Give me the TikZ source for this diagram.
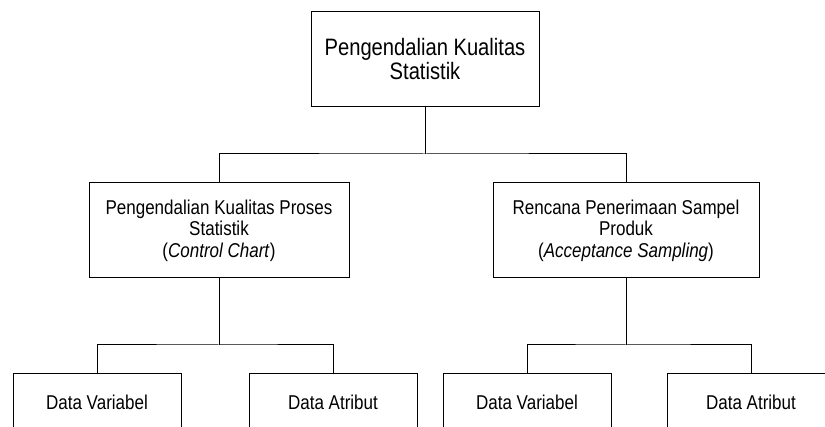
\documentclass[tikz,border=0pt]{standalone}
\usepackage{fontspec}
\setmainfont{Liberation Sans}[FakeStretch=0.85]
\begin{document}
\begin{tikzpicture}[x=0.75pt,y=-0.75pt,
  box/.style={draw=black, line width=0.75pt, inner sep=0pt, align=center},
  conn/.style={draw=black, line width=0.75pt},
  topfont/.style={font=\fontsize{17.8}{18}\selectfont},
  midfont/.style={font=\fontsize{15}{16.1}\selectfont}]
\useasboundingbox (0,0) rectangle (825,427);
\clip (0,0) rectangle (825,427);
\fill[white] (0,0) rectangle (825,427);

\node[box, topfont, minimum width=171pt, minimum height=71.25pt] (top) at (425,59.5) {Pengendalian Kualitas\\Statistik};

\node[box, midfont, minimum width=195pt, minimum height=71.25pt] (ml) at (219,230.5) {Pengendalian Kualitas Proses\\Statistik\\(\textit{Control Chart})};
\node[box, midfont, minimum width=199.5pt, minimum height=71.25pt] (mr) at (626,230.5) {Rencana Penerimaan Sampel\\Produk\\(\textit{Acceptance Sampling})};

\node[box, midfont, minimum width=126pt, minimum height=42pt] (lv) at (97,402) {Data Variabel};
\node[box, midfont, minimum width=126pt, minimum height=42pt] (la) at (333,402) {Data Atribut};
\node[box, midfont, minimum width=126pt, minimum height=42pt] (rv) at (527,402) {Data Variabel};
\node[box, midfont, minimum width=126pt, minimum height=42pt] (ra) at (751,402) {Data Atribut};

\coordinate (tj) at (425,154);
\coordinate (lj) at (219,345);
\coordinate (rj) at (626,345);

\draw[conn] (top.south) -- (tj);
\draw[conn] (ml.north) |- (tj) -| (mr.north);
\draw[conn] (ml.south) -- (lj);
\draw[conn] (lv.north) |- (lj) -| (la.north);
\draw[conn] (mr.south) -- (rj);
\draw[conn] (rv.north) |- (rj) -| (ra.north);
\end{tikzpicture}
\end{document}
